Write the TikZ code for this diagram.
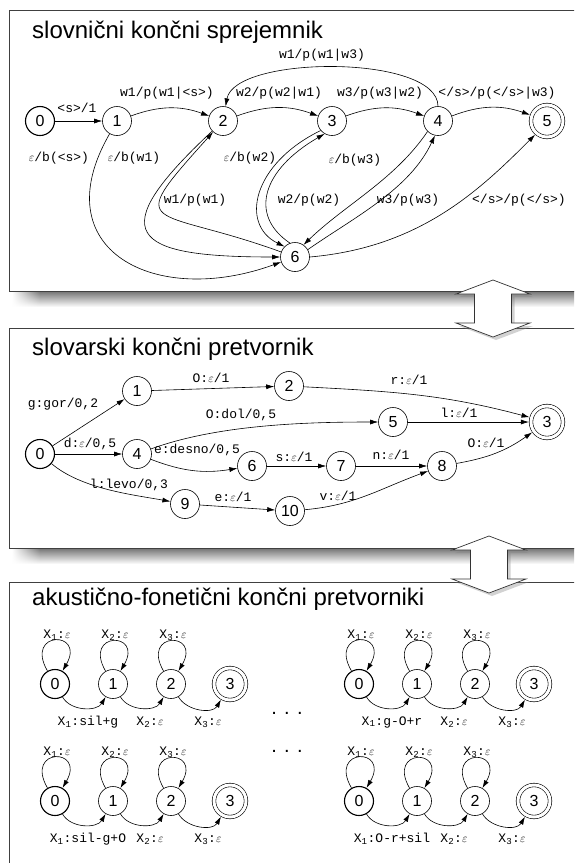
\documentclass[tikz,border=0pt]{standalone}
\usepackage{fontspec}
\setmainfont{Liberation Sans}
\setmonofont{Liberation Mono}
\usetikzlibrary{arrows.meta,shadows,fadings}

\tikzset{
  st/.style={circle, draw, line width=0.6pt, minimum size=29pt, inner sep=0pt,
    font=\fontsize{16}{16}\selectfont},
  initst/.style={line width=1.1pt},
  finst/.style={double, double distance=3pt, minimum size=32pt, outer sep=2.1pt},
  tr/.style={-{Latex[length=8pt,width=5pt]}, line width=0.6pt},
  lab/.style={font=\fontsize{13}{13}\ttfamily, inner sep=0pt},
  naslov/.style={anchor=base west, inner sep=0pt, font=\fontsize{24}{24}\selectfont},
  okvir/.style={draw=black!75, line width=0.8pt, fill=white},
  puscica/.style={draw=black!80, line width=0.7pt, fill=white,
    drop shadow={opacity=0.35, shadow xshift=3pt, shadow yshift=-3pt}},
}

\begin{document}
\begin{tikzpicture}[x=1pt, y=1pt]

\clip (0,0) rectangle (574,-863);
\fill[white] (0,0) rectangle (574,-863);

% sence
\foreach \y in {291,548}{
  \shade[top color=black!55, bottom color=white] (40,-\y) rectangle (574,-\y-16);
  \shade[top color=black!55, bottom color=white, path fading=west] (12,-\y) rectangle (40,-\y-16);
}

% okvirji
\draw[okvir] (9,-10) rectangle (590,-291);
\draw[okvir] (9,-328) rectangle (590,-548);
\draw[okvir] (9,-582) rectangle (590,-880);

% naslovi
\node[naslov] (t1) at (32,-38) {slovnični končni sprejemnik};
\node[naslov] (t2) at (32,-355) {slovarski končni pretvornik};
\node[naslov] (t3) at (32,-605) {akustično-fonetični končni pretvorniki};

% slovnicni sprejemnik
\node[st, initst] (a0) at (40,-121) {0};
\foreach \n/\x in {1/117,2/223,3/332,4/438}
  \node[st] (a\n) at (\x,-121) {\n};
\node[st, finst] (a5) at (547,-121) {5};
\node[st] (a6) at (295,-257) {6};

\draw[tr] (a0) -- (a1);
\foreach \i/\j in {1/2,2/3,3/4,4/5}
  \draw[tr] (a\i) to[bend left=20] (a\j);
\draw[tr] (a4) to[out=90, in=80, looseness=0.63] (a2);
\draw[tr] (a1) to[out=-120, in=200, looseness=1.6] (a6);
\draw[tr] (a2) to[out=223, in=180, looseness=2.7] (a6);
\draw[tr] (a6) to[out=160, in=228, looseness=2.55] (a2);
\draw[tr] (a3.220) .. controls +(206:76) and +(154:50) .. (a6.135);
\draw[tr] (a6.110) .. controls +(146:50) and +(210:72) .. (a3.240);
\draw[tr] (a4.225) .. controls +(236:58) and +(44:58) .. (a6.55);
\draw[tr] (a6.30) .. controls +(35:55) and +(245:60) .. (a4.258);
\draw[tr] (a6.0) .. controls +(5:110) and +(225:80) .. (a5.229);

\node[lab] (l01) at (77,-108) {<s>/1};
\node[lab] (l12) at (167,-93) {w1/p(w1|<s>)};
\node[lab] (l23) at (279,-93) {w2/p(w2|w1)};
\node[lab] (l34) at (380,-93) {w3/p(w3|w2)};
\node[lab] (l45) at (497,-93) {</s>/p(</s>|w3)};
\node[lab] (l42) at (322,-55) {w1/p(w1|w3)};
\node[lab] (l16) at (59,-158) {$\varepsilon$/b(<s>)};
\node[lab] (l26) at (134,-158) {$\varepsilon$/b(w1)};
\node[lab] (l36) at (250,-158) {$\varepsilon$/b(w2)};
\node[lab] (l46) at (355,-160) {$\varepsilon$/b(w3)};
\node[lab] (l62) at (195,-200) {w1/p(w1)};
\node[lab] (l63) at (309,-200) {w2/p(w2)};
\node[lab] (l64) at (408,-200) {w3/p(w3)};
\node[lab] (l65) at (519,-200) {</s>/p(</s>)};

% slovarski pretvornik
\node[st, initst] (b0) at (40,-454) {0};
\foreach \n/\x/\y in {1/137/391, 2/289/386, 4/137/454, 5/393/422, 6/252/466,
                      7/341/466, 8/442/466, 9/185/504, 10/290/511}
  \node[st] (b\n) at (\x,-\y) {\n};
\node[st, finst] (b3) at (547,-422) {3};

\foreach \i/\j in {0/1, 0/4, 1/2, 5/3, 6/7, 7/8, 9/10}
  \draw[tr] (b\i) -- (b\j);
\draw[tr] (b0) to[out=-40, in=170, looseness=0.8] (b9);
\draw[tr] (b2) to[out=-3, in=165] (b3);
\draw[tr] (b4) to[out=20, in=180, looseness=0.8] (b5);
\draw[tr] (b4) to[bend right=15] (b6);
\draw[tr] (b8) to[out=10, in=215] (b3);
\draw[tr] (b10) to[out=5, in=200] (b8);

\node[lab] (k01) at (63,-404) {g:gor/0,2};
\node[lab] (k12) at (211,-378) {O:$\varepsilon$/1};
\node[lab] (k45) at (241,-415) {O:dol/0,5};
\node[lab] (k04) at (90,-444) {d:$\varepsilon$/0,5};
\node[lab] (k46) at (197,-450) {e:desno/0,5};
\node[lab] (k09) at (129,-485) {l:levo/0,3};
\node[lab] (k910) at (233,-497) {e:$\varepsilon$/1};
\node[lab] (k67) at (294,-457) {s:$\varepsilon$/1};
\node[lab] (k23) at (409,-380) {r:$\varepsilon$/1};
\node[lab] (k53) at (459,-413) {l:$\varepsilon$/1};
\node[lab] (k83) at (486,-443) {O:$\varepsilon$/1};
\node[lab] (k78) at (391,-455) {n:$\varepsilon$/1};
\node[lab] (k108) at (338,-496) {v:$\varepsilon$/1};

% akusticno-foneticni pretvorniki
\foreach \x/\y/\oznaka [count=\m] in {55/684/sil+g, 359/684/g-O+r,
                                      55/801/sil-g+O, 359/801/O-r+sil}{
  \node[st, initst] (c\m0) at (\x,-\y) {0};
  \node[st] (c\m1) at (\x+58,-\y) {1};
  \node[st] (c\m2) at (\x+116,-\y) {2};
  \node[st, finst] (c\m3) at (\x+175,-\y) {3};
  \foreach \i [evaluate=\i as \j using int(\i+1)] in {0,1,2}{
    \draw[tr] (c\m\i) to[out=120, in=60, looseness=8, min distance=35pt] (c\m\i);
    \node[lab] (z\m\i) at (\x+58*\i+2,-\y+49) {X\textsubscript{\j}:$\varepsilon$};
    \draw[tr] (c\m\i) to[out=-60, in=-120] (c\m\j);
  }
  \node[lab] (p\m1) at (\x+33,-\y-38) {X\textsubscript{1}:\oznaka};
  \node[lab] (p\m2) at (\x+95,-\y-38) {X\textsubscript{2}:$\varepsilon$};
  \node[lab] (p\m3) at (\x+153,-\y-38) {X\textsubscript{3}:$\varepsilon$};
}
\node[font=\fontsize{20}{20}\selectfont, inner sep=0pt] (d1) at (287,-713) {. . .};
\node[font=\fontsize{20}{20}\selectfont, inner sep=0pt] (d2) at (287,-751) {. . .};

% puscici
\foreach \cx/\ty in {493/280, 489/536}
  \draw[puscica] (\cx,-\ty) -- ++(37,-14) -- ++(-18.5,0) -- ++(0,-29) -- ++(18.5,0)
    -- ++(-37,-14) -- ++(-37,14) -- ++(18.5,0) -- ++(0,29) -- ++(-18.5,0) -- cycle;

\end{tikzpicture}
\end{document}
